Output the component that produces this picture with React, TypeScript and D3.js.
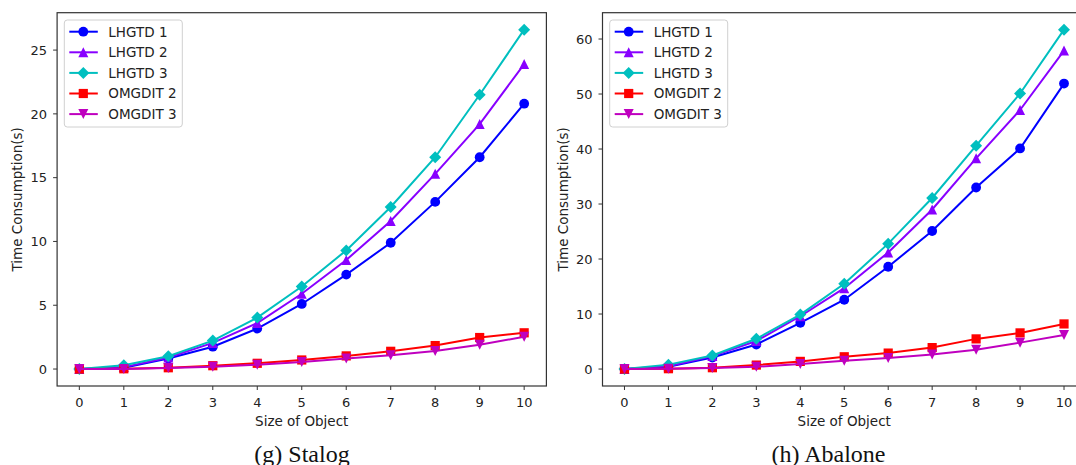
import React from "react";
import * as d3 from "d3";

// x categories (size of object)
const sizes = [0, 1, 2, 3, 4, 5, 6, 7, 8, 9, 10];

const seriesNames = ["LHGTD 1", "LHGTD 2", "LHGTD 3", "OMGDIT 2", "OMGDIT 3"];

// (g) Stalog
const stalogLHGTD1 = [0, 0.1, 0.82, 1.75, 3.17, 5.1, 7.4, 9.9, 13.1, 16.6, 20.8];
const stalogLHGTD2 = [0, 0.15, 0.9, 2.05, 3.6, 5.9, 8.55, 11.6, 15.3, 19.2, 23.9];
const stalogLHGTD3 = [0, 0.29, 1.0, 2.23, 4.03, 6.47, 9.3, 12.7, 16.6, 21.5, 26.6];
const stalogOMGDIT2 = [0, 0.02, 0.1, 0.26, 0.45, 0.71, 1.03, 1.39, 1.84, 2.47, 2.84];
const stalogOMGDIT3 = [0, 0.01, 0.08, 0.18, 0.34, 0.55, 0.82, 1.08, 1.42, 1.9, 2.53];
const stalogTicks = [0, 5, 10, 15, 20, 25];

// (h) Abalone
const abaloneLHGTD1 = [0, 0.4, 2.1, 4.46, 8.4, 12.6, 18.6, 25.1, 33.0, 40.1, 51.9];
const abaloneLHGTD2 = [0, 0.5, 2.35, 5.1, 9.6, 14.7, 21.2, 29.0, 38.3, 47.1, 57.9];
const abaloneLHGTD3 = [0, 0.8, 2.47, 5.5, 9.9, 15.5, 22.8, 31.1, 40.6, 50.1, 61.7];
const abaloneOMGDIT2 = [0, 0.06, 0.24, 0.72, 1.39, 2.23, 2.9, 3.9, 5.48, 6.57, 8.2];
const abaloneOMGDIT3 = [0, 0.06, 0.18, 0.42, 0.9, 1.5, 2.0, 2.65, 3.5, 4.8, 6.2];
const abaloneTicks = [0, 10, 20, 30, 40, 50, 60];

const colors = ["#0000ff", "#8800ff", "#00bfbf", "#ff0000", "#bf00bf"];

// matplotlib-like marker shapes (size = half width in px)
const circleSym = {
  draw(ctx, r) {
    ctx.moveTo(r, 0);
    ctx.arc(0, 0, r, 0, 2 * Math.PI);
  },
};
const triUp = {
  draw(ctx, r) {
    ctx.moveTo(0, -r);
    ctx.lineTo(r, r);
    ctx.lineTo(-r, r);
    ctx.closePath();
  },
};
const triDown = {
  draw(ctx, r) {
    ctx.moveTo(0, r);
    ctx.lineTo(r, -r);
    ctx.lineTo(-r, -r);
    ctx.closePath();
  },
};
const diamondSym = {
  draw(ctx, r) {
    ctx.moveTo(0, -r);
    ctx.lineTo(r, 0);
    ctx.lineTo(0, r);
    ctx.lineTo(-r, 0);
    ctx.closePath();
  },
};
const squareSym = {
  draw(ctx, r) {
    ctx.rect(-r, -r, 2 * r, 2 * r);
  },
};
const markers = [
  { type: circleSym, r: 4.9 },
  { type: triUp, r: 5 },
  { type: diamondSym, r: 6 },
  { type: squareSym, r: 4.6 },
  { type: triDown, r: 5 },
];

const AX = "DejaVu Sans, sans-serif";

const Panel = ({ left, right, series, ticks, title, titleX, yLabelX }) => {
  const top = 12.7;
  const bottom = 386;
  const all = series.flat();
  const mn = d3.min(all);
  const mx = d3.max(all);
  const pad = (mx - mn) * 0.05;
  const x = d3.scaleLinear().domain([-0.5, 10.5]).range([left, right]);
  const y = d3.scaleLinear().domain([mn - pad, mx + pad]).range([bottom, top]);
  const line = d3
    .line()
    .x((d, i) => x(sizes[i]))
    .y((d) => y(d));

  const lgX = left + 7.2;
  const lgY = 20;
  return (
    <g>
      {series.map((s, k) => (
        <g key={k}>
          <path d={line(s)} fill="none" stroke={colors[k]} strokeWidth={2} />
          {s.map((v, i) => (
            <path
              key={i}
              transform={`translate(${x(sizes[i])},${y(v)})`}
              d={d3.symbol(markers[k].type, markers[k].r)()}
              fill={colors[k]}
            />
          ))}
        </g>
      ))}
      <rect
        x={left}
        y={top}
        width={right - left}
        height={bottom - top}
        fill="none"
        stroke="#333"
        strokeWidth={1.2}
      />
      {sizes.map((t) => (
        <g key={t}>
          <line x1={x(t)} x2={x(t)} y1={bottom} y2={bottom + 4} stroke="#333" strokeWidth={1} />
          <text x={x(t)} y={406.5} textAnchor="middle" fontFamily={AX} fontSize={13} fill="#222">
            {t}
          </text>
        </g>
      ))}
      {ticks.map((t) => (
        <g key={t}>
          <line x1={left - 4} x2={left} y1={y(t)} y2={y(t)} stroke="#333" strokeWidth={1} />
          <text
            x={left - 10}
            y={y(t)}
            dy="0.36em"
            textAnchor="end"
            fontFamily={AX}
            fontSize={13}
            fill="#222"
          >
            {t}
          </text>
        </g>
      ))}
      <text
        x={(left + Math.min(right, 546.4 + (left - 57.1))) / 2}
        y={426}
        textAnchor="middle"
        fontFamily={AX}
        fontSize={13.5}
        fill="#222"
      >
        Size of Object
      </text>
      <text
        transform={`translate(${yLabelX},${(top + bottom) / 2}) rotate(-90)`}
        dy="0.36em"
        textAnchor="middle"
        fontFamily={AX}
        fontSize={13.5}
        fill="#222"
      >
        Time Consumption(s)
      </text>
      <rect
        x={lgX}
        y={lgY}
        width={118}
        height={107}
        rx={3}
        fill="white"
        fillOpacity={0.85}
        stroke="#d0d0d0"
        strokeWidth={1}
      />
      {seriesNames.map((n, k) => {
        const cy = lgY + 11.7 + k * 20.6;
        return (
          <g key={n}>
            <line x1={lgX + 5} x2={lgX + 33.5} y1={cy} y2={cy} stroke={colors[k]} strokeWidth={2} />
            <path
              transform={`translate(${lgX + 19},${cy})`}
              d={d3.symbol(markers[k].type, markers[k].r)()}
              fill={colors[k]}
            />
            <text x={lgX + 44} y={cy} dy="0.36em" fontFamily={AX} fontSize={13.5} fill="#222">
              {n}
            </text>
          </g>
        );
      })}
      <text
        x={titleX}
        y={461.5}
        textAnchor="middle"
        fontFamily="Liberation Serif, Times New Roman, serif"
        fontSize={24}
        fill="#111"
      >
        {title}
      </text>
    </g>
  );
};

export default function App() {
  return (
    <svg
      width={1076}
      height={465}
      style={{ position: "absolute", left: 0, top: 0, background: "white" }}
    >
      <rect width={1076} height={465} fill="white" />
      <Panel
        left={57.1}
        right={546.4}
        series={[stalogLHGTD1, stalogLHGTD2, stalogLHGTD3, stalogOMGDIT2, stalogOMGDIT3]}
        ticks={stalogTicks}
        title="(g) Stalog"
        titleX={302}
        yLabelX={17}
      />
      <Panel
        left={602.5}
        right={1086}
        series={[abaloneLHGTD1, abaloneLHGTD2, abaloneLHGTD3, abaloneOMGDIT2, abaloneOMGDIT3]}
        ticks={abaloneTicks}
        title="(h) Abalone"
        titleX={828.5}
        yLabelX={563}
      />
    </svg>
  );
}
